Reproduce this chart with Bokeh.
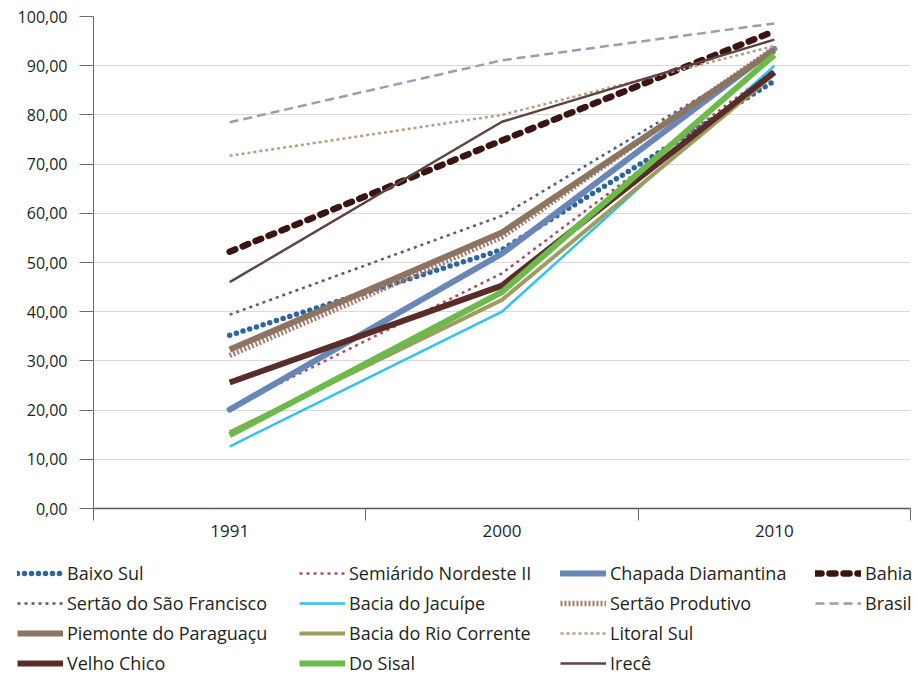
from bokeh.plotting import figure
from bokeh.models import Range1d, FixedTicker, Legend, LegendItem
from bokeh.layouts import column
from bokeh.embed import file_html
from bokeh.resources import INLINE

# ---------------- data ----------------
years = ["1991", "2000", "2010"]

baixo_sul = [35.2, 52.6, 86.9]
semiarido = [20.4, 47.8, 89.3]
chapada = [20.1, 51.8, 93.4]
bahia = [52.2, 74.8, 97.0]
sertao_sf = [39.4, 59.5, 92.6]
jacuipe = [12.6, 40.0, 90.0]
sertao_prod = [31.1, 55.2, 93.6]
brasil = [78.5, 91.1, 98.6]
piemonte = [32.3, 56.1, 93.1]
rio_corrente = [15.5, 42.4, 88.3]
litoral_sul = [71.7, 80.0, 94.0]
velho_chico = [25.6, 45.3, 88.7]
do_sisal = [14.9, 44.0, 92.2]
irece = [46.0, 78.6, 95.3]

y_ticks = [0, 10, 20, 30, 40, 50, 60, 70, 80, 90, 100]
y_tick_labels = ["0,00", "10,00", "20,00", "30,00", "40,00", "50,00",
                 "60,00", "70,00", "80,00", "90,00", "100,00"]

# (name, values, color, width, dash, cap) in drawing order
series = [
    ("Baixo Sul", baixo_sul, "#2e64a0", 5.5, "0 7", "round"),
    ("Semiárido Nordeste II", semiarido, "#a8505e", 2.5, "3 4", "butt"),
    ("Chapada Diamantina", chapada, "#6886b8", 6, "solid", "round"),
    ("Bahia", bahia, "#3b1313", 6.5, "6 8", "round"),
    ("Sertão do São Francisco", sertao_sf, "#4f5d7e", 2.5, "3 4", "butt"),
    ("Bacia do Jacuípe", jacuipe, "#33c1ef", 2.5, "solid", "butt"),
    ("Sertão Produtivo", sertao_prod, "#a97a72", 5.5, "2 2", "butt"),
    ("Brasil", brasil, "#9b9bb7", 2.5, "9 5", "butt"),
    ("Piemonte do Paraguaçu", piemonte, "#8c7560", 6, "solid", "butt"),
    ("Bacia do Rio Corrente", rio_corrente, "#9e9d5f", 4, "solid", "butt"),
    ("Litoral Sul", litoral_sul, "#bb9c82", 2.5, "3 3", "butt"),
    ("Velho Chico", velho_chico, "#5a2c29", 6, "solid", "butt"),
    ("Do Sisal", do_sisal, "#6bba4a", 6, "solid", "butt"),
    ("Irecê", irece, "#5c4541", 2.5, "solid", "butt"),
]

# legend columns (as laid out under the chart)
legend_columns = [
    ["Baixo Sul", "Sertão do São Francisco", "Piemonte do Paraguaçu", "Velho Chico"],
    ["Semiárido Nordeste II", "Bacia do Jacuípe", "Bacia do Rio Corrente", "Do Sisal"],
    ["Chapada Diamantina", "Sertão Produtivo", "Litoral Sul", "Irecê"],
    ["Bahia", "Brasil"],
]
legend_col_x = [17, 299, 560, 815]

FONT = "Open Sans"
TXT = "#231f20"
AXC = "#6b6b6b"

# category centres / band edges on a numeric axis (Excel-like category axis)
x_centres = [i + 0.5 for i in range(len(years))]
x_edges = list(range(len(years) + 1))

p = figure(width=912, height=548,
           x_range=Range1d(0, len(years)),
           y_range=Range1d(0, 100),
           output_backend="svg", toolbar_location=None,
           min_border_left=93, min_border_right=2, min_border_top=16,
           min_border_bottom=40)
p.outline_line_color = None
p.xgrid.visible = False
p.ygrid.grid_line_color = "#d9d9d9"
p.ygrid.grid_line_width = 1.2

ya = p.yaxis[0]
ya.ticker = FixedTicker(ticks=y_ticks)
ya.major_label_overrides = dict(zip(y_ticks, y_tick_labels))
ya.major_tick_out = 14
ya.major_tick_in = 0
ya.minor_tick_out = 0
ya.minor_tick_in = 0
ya.major_label_standoff = 12
ya.axis_line_color = AXC
ya.major_tick_line_color = AXC
ya.major_label_text_font = FONT
ya.major_label_text_font_size = "16px"
ya.major_label_text_color = TXT

xa = p.xaxis[0]
xa.ticker = FixedTicker(ticks=x_centres, minor_ticks=x_edges)
xa.major_label_overrides = dict(zip(x_centres, years))
xa.major_tick_out = 0
xa.major_tick_in = 0
xa.minor_tick_out = 12
xa.minor_tick_in = 0
xa.minor_tick_line_color = AXC
xa.axis_line_color = "#5a5a5a"
xa.axis_line_width = 1.5
xa.major_label_standoff = 4
xa.major_label_text_font = FONT
xa.major_label_text_font_size = "17px"
xa.major_label_text_color = TXT

for name, vals, color, width, dash, cap in series:
    p.line(x_centres, vals, line_color=color, line_width=width,
           line_dash=dash, line_cap=cap, line_join="round")

# ---- legend panel under the chart ----
pl = figure(width=912, height=127, x_range=Range1d(0, 1), y_range=Range1d(0, 1),
            output_backend="svg", toolbar_location=None,
            x_axis_location=None, y_axis_location=None,
            min_border=0)
pl.frame_align = False
pl.outline_line_color = None
pl.grid.visible = False

keys = {}
for name, vals, color, width, dash, cap in series:
    keys[name] = pl.line(x_centres, vals, line_color=color, line_width=width,
                         line_dash=dash, line_cap=cap, visible=False)

ROW_H = 24
GAP = 6
for names, lx in zip(legend_columns, legend_col_x):
    h = len(names) * ROW_H + (len(names) - 1) * GAP
    lg = Legend(items=[LegendItem(label=n, renderers=[keys[n]]) for n in names],
                orientation="vertical",
                location=(lx, 4 * ROW_H + 3 * GAP - h),
                glyph_width=46, glyph_height=20, label_height=20,
                label_standoff=4, spacing=GAP, padding=0, margin=0,
                border_line_color=None, background_fill_alpha=0,
                inactive_fill_alpha=0,
                label_text_font=FONT, label_text_font_size="18px",
                label_text_color=TXT)
    pl.add_layout(lg, "center")

open("out.html", "w").write(file_html(column(p, pl), INLINE))
